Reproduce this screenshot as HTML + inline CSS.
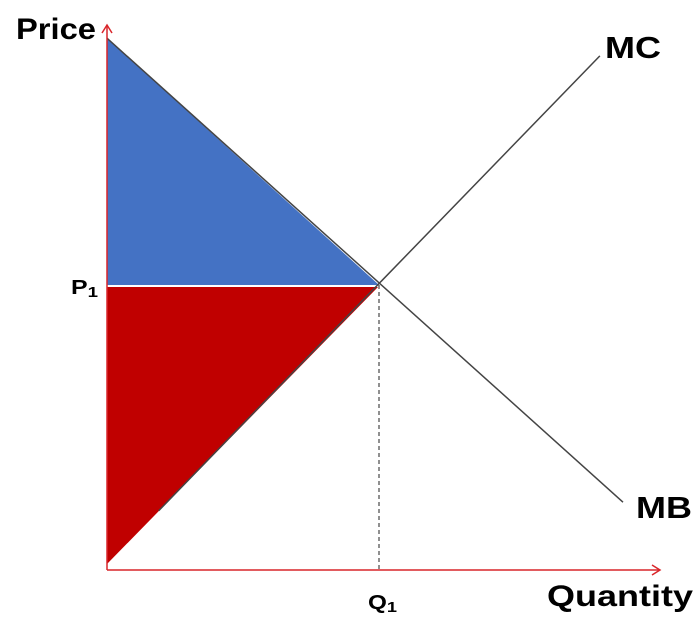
<!DOCTYPE html>
<html><head><meta charset="utf-8"><style>
body{margin:0;background:#fff;}
svg{display:block;}
text{font-family:"Liberation Sans",sans-serif;font-weight:bold;fill:#000;}
</style></head><body>
<svg id="chart" width="697" height="627"></svg>
<script>
const qEq = [10];
const pEq = [5];
const mbQ = [0, 18.97];
const mbP = [9.33, 1.19];
const mcQ = [0, 18.12];
const mcP = [0.105, 9.02];
const mcVisibleStartQ = [1.9];
const NS = "http://www.w3.org/2000/svg";
const svg = document.getElementById('chart');
function x(q){return 107 + q*27.2;}
function y(p){return 570 - p*57;}
function mk(tag, attrs){const e=document.createElementNS(NS,tag);for(const k in attrs)e.setAttribute(k,attrs[k]);svg.appendChild(e);return e;}
function mcAt(q){return mcP[0]+(mcP[1]-mcP[0])*(q-mcQ[0])/(mcQ[1]-mcQ[0]);}
const qe=qEq[0], pe=pEq[0];
let e;
e=mk('polygon',{points:`${x(0)},${y(mbP[0])} ${x(0)},${y(pe)} ${x(qe)},${y(pe)}`,fill:'#4472C4'});


e=mk('polygon',{points:`${x(0)},${y(pe)+2} ${x(qe)-1},${y(pe)+2} ${x(0)},${y(mcP[0])}`,fill:'#C00000'});


e=mk('line',{x1:x(qe),y1:y(pe),x2:x(qe),y2:y(0),stroke:'#222','stroke-width':1,'stroke-dasharray':'4,3'});


e=mk('line',{x1:x(mbQ[0]),y1:y(mbP[0]),x2:x(mbQ[1]),y2:y(mbP[1]),stroke:'#444','stroke-width':1.5});


const s=mcVisibleStartQ[0];
e=mk('line',{x1:x(s),y1:y(mcAt(s)),x2:x(mcQ[1]),y2:y(mcP[1]),stroke:'#444','stroke-width':1.5});


e=mk('line',{x1:107,y1:570,x2:107,y2:25,stroke:'#d9252a','stroke-width':1.5});


e=mk('polyline',{points:'102,33 107,25 112,33',fill:'none',stroke:'#d9252a','stroke-width':1.5});


e=mk('line',{x1:107,y1:570,x2:660,y2:570,stroke:'#d9252a','stroke-width':1.5});


e=mk('polyline',{points:'652,565 660,570 652,575',fill:'none',stroke:'#d9252a','stroke-width':1.5});


function label(txt,xx,yy,size,name,len,sub){const t=mk('text',{x:xx,y:yy,'font-size':size});t.textContent=txt;if(sub){const ts=document.createElementNS(NS,'tspan');ts.setAttribute('font-size',size*0.75);ts.setAttribute('dy',3);ts.textContent=sub;t.appendChild(ts);}if(len){t.setAttribute('textLength',len);t.setAttribute('lengthAdjust','spacingAndGlyphs');}return t;}
label('Price',16,39,30,'y-axis-title',80);
label('Quantity',547,606,30,'x-axis-title',146);
label('MC',605,58,31,'mc-label',56);
label('MB',636,518,31,'mb-label',56);
label('P',71,294,20,'p1-label',27,'1');
label('Q',368,609,20,'q1-label',29,'1');
</script>
</body></html>
